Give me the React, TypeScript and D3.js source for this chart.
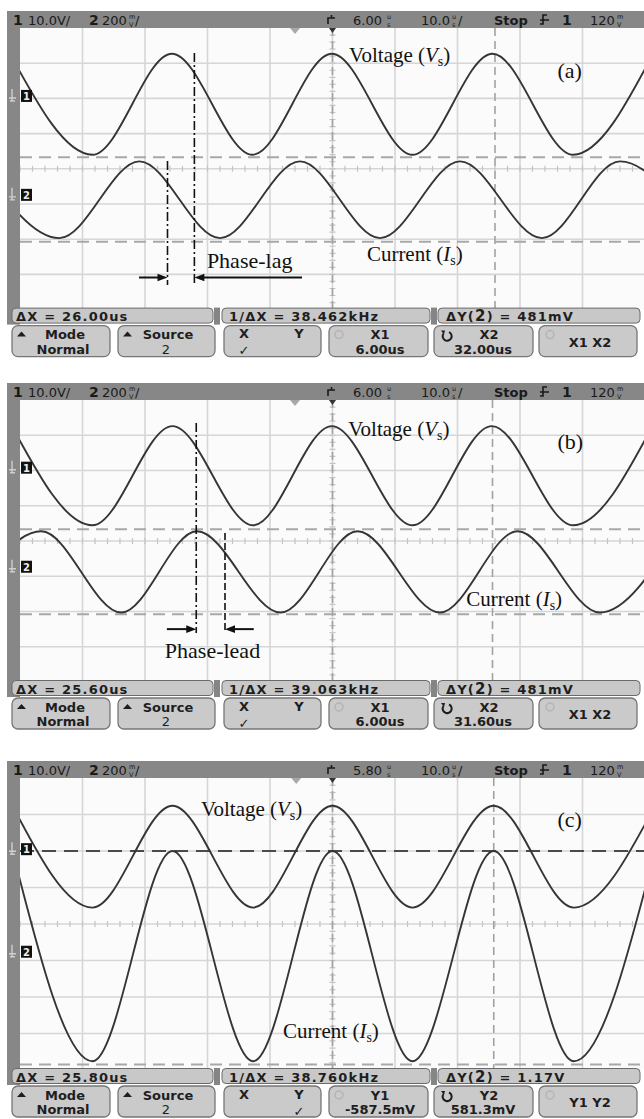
import React from 'react';
import * as d3 from 'd3';

type Pt = [number, number];

// ---- Shared screen geometry -------------------------------------------------
const W = 644;
const H = 1119;
const FRAME_L = 7;
const PLOT_L = 20;
const PLOT_R = 645;
const HEADER_H = 17;
const SCOPE_FONT = "'DejaVu Sans', Verdana, sans-serif";
const SERIF_FONT = "'Liberation Serif', 'Times New Roman', serif";

// ---- Time axis (µs) ---------------------------------------------------------
const DELAYS = [6.0, 6.0, 5.8];
const TIME_SPAN = 100; // 10 divisions × 10 µs/div

// ---- Panel (a): lagging current --------------------------------------------
const A_V_PEAKS = [-45.6, -19.7, 5.9, 31.6, 57.3];
const A_V_TROUGHS = [-32.4, -6.8, 18.8, 44.5];
const A_V_LEVELS = [3.27, 0.4];
const A_I_PEAKS = [-50.6, -24.9, 0.8, 26.4, 52.0];
const A_I_TROUGHS = [-37.7, -12.0, 13.6, 39.5, 65.1];
const A_I_LEVELS = [0.21, -1.97];

// ---- Panel (b): leading current --------------------------------------------
const B_V_PEAKS = [-45.3, -19.6, 5.9, 31.5, 57.2];
const B_V_TROUGHS = [-32.4, -6.7, 18.8, 44.5];
const B_V_LEVELS = [3.26, 0.445];
const B_I_PEAKS = [-40.6, -15.7, 10.0, 35.6, 61.2];
const B_I_TROUGHS = [-53.4, -27.8, -2.3, 23.2, 48.8];
const B_I_LEVELS = [0.275, -2.03];

// ---- Panel (c): in-phase current -------------------------------------------
const C_V_PEAKS = [-45.4, -19.8, 5.8, 31.6, 57.4];
const C_V_TROUGHS = [-32.6, -6.9, 18.6, 44.4];
const C_V_LEVELS = [3.24, 0.45];
const C_I_PEAKS = [-45.4, -19.8, 5.8, 31.6, 57.4];
const C_I_TROUGHS = [-32.6, -6.9, 18.6, 44.4];
const C_I_LEVELS = [2.0, -3.76];

// ---- Cursors (X in µs, Y in divisions from screen centre) -------------------
const X_CURSORS = [[6.0, 32.0], [6.0, 31.6], [5.8, 31.6]];
const Y_CURSORS = [[0.33, -2.075], [0.33, -2.08], [2.0, -3.85]];

// ---- Channel ground markers (divisions) -------------------------------------
const CH1_LEVELS = [2.07, 2.08, 2.05];
const CH2_LEVELS = [-0.74, -0.73, -0.76];

// ---- Phase annotations -----------------------------------------------------
const A_MARK_T = [-20.4, -16.1];
const A_MARK_TOP = [0.22, 3.29];
const A_MARK_BOTTOM = -3.3;
const A_ARROW_FROM = [-24.96, 1.12];
const A_ARROW_LEVEL = -3.09;

const B_MARK_T = [-15.8, -11.2];
const B_MARK_TOP = [3.35, 0.23];
const B_MARK_BOTTOM = -2.61;
const B_ARROW_FROM = [-20.5, -6.6];
const B_ARROW_LEVEL = -2.5;

// ---- Screen texts ----------------------------------------------------------
const DELAY_TEXT = ['6.00', '6.00', '5.80'];
const STATUS_DX = ['ΔX = 26.00us', 'ΔX = 25.60us', 'ΔX = 25.80us'];
const STATUS_FREQ = ['1/ΔX = 38.462kHz', '1/ΔX = 39.063kHz', '1/ΔX = 38.760kHz'];
const STATUS_DY = ['481mV', '481mV', '1.17V'];
const CURSOR_BTN_1 = [['X1', '6.00us'], ['X1', '6.00us'], ['Y1', '-587.5mV']];
const CURSOR_BTN_2 = [['X2', '32.00us'], ['X2', '31.60us'], ['Y2', '581.3mV']];
const CURSOR_BTN_3 = ['X1 X2', 'X1 X2', 'Y1 Y2'];
const CHECK_ON_Y = [false, false, true];
const PANEL_TAGS = ['(a)', '(b)', '(c)'];

// Label anchors: [time µs, baseline level div]
const V_LABEL_POS: Pt[] = [[8.64, 3.03], [8.5, 2.98], [-15.24, 2.96]];
const I_LABEL_POS: Pt[] = [[11.5, -2.62], [27.4, -1.84], [-2.12, -3.12]];
const TAG_POS: Pt[] = [[42.0, 2.58], [42.0, 2.61], [41.8, 2.66]];

// Panel frame geometry
const HEADER_TOPS = [11, 383, 761];
const DIV_HEIGHTS = [35.2, 35.25, 36.5];

function wave(peaks: number[], troughs: number[], levels: number[]): Pt[] {
  const pts: Pt[] = [
    ...peaks.map((t) => [t, levels[0]] as Pt),
    ...troughs.map((t) => [t, levels[1]] as Pt),
  ];
  return pts.sort((a, b) => a[0] - b[0]);
}

const TRACES: Pt[][][] = [
  [wave(A_V_PEAKS, A_V_TROUGHS, A_V_LEVELS), wave(A_I_PEAKS, A_I_TROUGHS, A_I_LEVELS)],
  [wave(B_V_PEAKS, B_V_TROUGHS, B_V_LEVELS), wave(B_I_PEAKS, B_I_TROUGHS, B_I_LEVELS)],
  [wave(C_V_PEAKS, C_V_TROUGHS, C_V_LEVELS), wave(C_I_PEAKS, C_I_TROUGHS, C_I_LEVELS)],
];

interface Phase {
  label: string;
  markT: number[];
  markTop: number[];
  markBottom: number;
  markDash: string[];
  arrowFrom: number[];
  arrowLevel: number;
  textT: number;
  textLevel: number;
  anchor: 'start' | 'middle';
}

const DASH_DOT = '9,3,2,3';
const DASHED = '7,3';

const PHASES: (Phase | null)[] = [
  {
    label: 'Phase-lag', markT: A_MARK_T, markTop: A_MARK_TOP, markBottom: A_MARK_BOTTOM,
    markDash: [DASH_DOT, DASH_DOT], arrowFrom: A_ARROW_FROM, arrowLevel: A_ARROW_LEVEL,
    textT: -14.1, textLevel: -2.82, anchor: 'start',
  },
  {
    label: 'Phase-lead', markT: B_MARK_T, markTop: B_MARK_TOP, markBottom: B_MARK_BOTTOM,
    markDash: [DASH_DOT, DASHED], arrowFrom: B_ARROW_FROM, arrowLevel: B_ARROW_LEVEL,
    textT: -13.2, textLevel: -3.33, anchor: 'middle',
  },
  null,
];

// A reading followed by the scope's small stacked unit (e.g. m over V)
function Reading({ x, y, num, top, bottom, ux, slash }: {
  x: number; y: number; num: string; top: string; bottom: string; ux: number; slash?: boolean;
}) {
  return (
    <g>
      <text x={x} y={y}>{num}</text>
      <text x={ux} y={y - 6.2} fontSize={6.5}>{top}</text>
      <text x={ux} y={y + 2} fontSize={6.5}>{bottom}</text>
      {slash && <text x={ux + 6} y={y}>/</text>}
    </g>
  );
}

function Header({ top, idx }: { top: number; idx: number }) {
  const b = top + 14;
  return (
    <g>
      <rect x={FRAME_L} y={top} width={W - FRAME_L} height={HEADER_H} fill="#878787" />
      <g fontFamily={SCOPE_FONT} fill="#1a1a1a" fontSize={13}>
        <text x={13} y={b} fontWeight="bold" fontSize={14}>1</text>
        <text x={28} y={b}>10.0V/</text>
        <text x={89} y={b} fontWeight="bold" fontSize={14}>2</text>
        <Reading x={102} y={b} num="200" top="m" bottom="V" ux={129} slash />
        <path d={`M${328},${b - 1} v-6 h7 M${331.5},${b - 7} v-3`} stroke="#1a1a1a" strokeWidth={1.6} fill="none" />
        <Reading x={353} y={b} num={DELAY_TEXT[idx]} top="u" bottom="s" ux={387} />
        <Reading x={421} y={b} num="10.0" top="u" bottom="s" ux={452} slash />
        <text x={494} y={b} fontWeight="bold">Stop</text>
        <path d={`M${540},${b - 1} h3 v-9 h4 M${540},${b - 5} h9`} stroke="#1a1a1a" strokeWidth={1.6} fill="none" />
        <text x={562} y={b} fontWeight="bold" fontSize={14}>1</text>
        <Reading x={590} y={b} num="120" top="m" bottom="V" ux={617} />
      </g>
    </g>
  );
}

function ScopeLabel({ x, y, name, sym }: { x: number; y: number; name: string; sym: string }) {
  return (
    <text x={x} y={y} fontFamily={SERIF_FONT} fontSize={21} fill="#111">
      {name} (<tspan fontStyle="italic">{sym}</tspan>
      <tspan fontSize={14} dy={4}>s</tspan>
      <tspan dy={-4}>)</tspan>
    </text>
  );
}

function Button({ x0, x1, top, children }: { x0: number; x1: number; top: number; children?: React.ReactNode }) {
  return (
    <g>
      <rect x={x0} y={top} width={x1 - x0} height={31} rx={6} fill="#cacaca" stroke="#767676" strokeWidth={1.3} />
      {children}
    </g>
  );
}

function Panel({ idx }: { idx: number }) {
  const headerTop = HEADER_TOPS[idx];
  const divH = DIV_HEIGHTS[idx];
  const delay = DELAYS[idx];
  const plotTop = headerTop + HEADER_H;
  const plotBottom = plotTop + 8 * divH;
  const statusTop = plotBottom - 1.5;
  const btnTop = statusTop + 17.5;

  const x = d3.scaleLinear().domain([delay - TIME_SPAN / 2, delay + TIME_SPAN / 2]).range([PLOT_L, PLOT_R]);
  const y = d3.scaleLinear().domain([-4, 4]).range([plotBottom, plotTop]);
  const line = d3.line<Pt>().x((d) => x(d[0])).y((d) => y(d[1])).curve(d3.curveMonotoneX);

  const gridT = d3.range(1, 10).map((k) => delay - TIME_SPAN / 2 + k * 10);
  const gridL = d3.range(-3, 4);
  const minorT = d3.range(delay - 50, delay + 50.01, 2);
  const minorL = d3.range(-4, 4.01, 0.2);
  const clipId = `plot-clip-${idx}`;
  const phase = PHASES[idx];
  const [v, i] = TRACES[idx];
  const y0 = y(0);
  const xc = x(delay);

  return (
    <g>
      <defs>
        <clipPath id={clipId}>
          <rect x={PLOT_L} y={plotTop} width={W - PLOT_L} height={plotBottom - plotTop} />
        </clipPath>
      </defs>
      {/* frame */}
      <rect x={FRAME_L} y={plotTop} width={PLOT_L - FRAME_L} height={plotBottom - plotTop + 15} fill="#878787" />
      <rect x={PLOT_L} y={plotTop} width={W - PLOT_L} height={plotBottom - plotTop} fill="#fbfbfb" />
      <Header top={headerTop} idx={idx} />

      <g clipPath={`url(#${clipId})`}>
        {/* graticule */}
        {gridT.map((t) => (
          <line key={`gx${t}`} x1={x(t)} x2={x(t)} y1={plotTop} y2={plotBottom} stroke="#d6d6d6" strokeWidth={1.6} />
        ))}
        {gridL.map((l) => (
          <line key={`gy${l}`} x1={PLOT_L} x2={PLOT_R} y1={y(l)} y2={y(l)} stroke="#d6d6d6" strokeWidth={1.6} />
        ))}
        {minorT.map((t) => (
          <line key={`mx${t}`} x1={x(t)} x2={x(t)} y1={y0 - 3} y2={y0 + 3} stroke="#c4c4c4" strokeWidth={1.2} />
        ))}
        {minorL.map((l) => (
          <line key={`my${l}`} x1={xc - 3} x2={xc + 3} y1={y(l)} y2={y(l)} stroke="#c4c4c4" strokeWidth={1.2} />
        ))}

        {/* cursors */}
        {X_CURSORS[idx].map((t, k) => (
          <line key={`xc${k}`} x1={x(t)} x2={x(t)} y1={plotTop} y2={plotBottom}
            stroke="#a2a2a2" strokeWidth={1.6} strokeDasharray="8,5" />
        ))}
        {Y_CURSORS[idx].map((l, k) => {
          const dark = idx === 2 && k === 0;
          return (
            <line key={`yc${k}`} x1={PLOT_L} x2={PLOT_R} y1={y(l)} y2={y(l)}
              stroke={dark ? '#4a4a4a' : '#a8a8a8'} strokeWidth={dark ? 1.8 : 2} strokeDasharray={dark ? '14,8' : '12,7'} />
          );
        })}

        {/* trigger / reference markers */}
        <path d={`M${x(0) - 5},${plotTop} h10 l-5,6 z`} fill="#a8a8a8" />
        <path d={`M${xc - 3.5},${plotTop} h7 l-3.5,5 z`} fill="#333" />

        {/* traces */}
        <path d={line(v) ?? ''} fill="none" stroke="#353535" strokeWidth={1.9} />
        <path d={line(i) ?? ''} fill="none" stroke="#353535" strokeWidth={1.9} />

        {/* phase annotation */}
        {phase && (
          <g>
            {phase.markT.map((t, k) => (
              <line key={`pm${k}`} x1={x(t)} x2={x(t)} y1={y(phase.markTop[k])} y2={y(phase.markBottom)}
                stroke="#111" strokeWidth={1.6} strokeDasharray={phase.markDash[k]} />
            ))}
            {phase.arrowFrom.map((t, k) => {
              const xs = x(t);
              const xe = x(phase.markT[k]);
              const dir = Math.sign(xe - xs);
              const ay = y(phase.arrowLevel);
              return (
                <g key={`pa${k}`}>
                  <line x1={xs} x2={xe - dir * 6} y1={ay} y2={ay} stroke="#111" strokeWidth={2} />
                  <path d={`M${xe},${ay} L${xe - dir * 10},${ay - 3.8} L${xe - dir * 10},${ay + 3.8} Z`} fill="#111" />
                </g>
              );
            })}
            <text x={x(phase.textT)} y={y(phase.textLevel)} fontFamily={SERIF_FONT} fontSize={22}
              fill="#111" textAnchor={phase.anchor}>{phase.label}</text>
          </g>
        )}

        {/* labels */}
        <ScopeLabel x={x(V_LABEL_POS[idx][0])} y={y(V_LABEL_POS[idx][1])} name="Voltage" sym="V" />
        <ScopeLabel x={x(I_LABEL_POS[idx][0])} y={y(I_LABEL_POS[idx][1])} name="Current" sym="I" />
        <text x={x(TAG_POS[idx][0])} y={y(TAG_POS[idx][1])} fontFamily={SERIF_FONT} fontSize={22} fill="#111">
          {PANEL_TAGS[idx]}
        </text>
      </g>

      {/* channel markers */}
      {[CH1_LEVELS[idx], CH2_LEVELS[idx]].map((l, k) => (
        <g key={`ch${k}`}>
          <path d={`M${12},${y(l) - 7} v12 M${9},${y(l) + 2} h7 M${10},${y(l) + 5} h5`} stroke="#cfcfcf" strokeWidth={1.4} fill="none" />
          <rect x={21} y={y(l) - 6} width={11} height={12} fill="#111" />
          <text x={26.5} y={y(l) + 4} fill="#eee" fontSize={10} fontWeight="bold" fontFamily={SCOPE_FONT} textAnchor="middle">
            {k + 1}
          </text>
        </g>
      ))}

      {/* status row */}
      <rect x={214} y={plotBottom - 2} width={6} height={17} fill="#858585" />
      <rect x={431} y={plotBottom - 2} width={6} height={17} fill="#858585" />
      <g fontFamily={SCOPE_FONT} fontSize={13} fontWeight="bold" fill="#1e1e1e" letterSpacing={1.2}>
        <rect x={12} y={statusTop} width={201} height={15} rx={4} fill="#c8c8c8" stroke="#6a6a6a" />
        <rect x={222} y={statusTop} width={208} height={15} rx={4} fill="#c8c8c8" stroke="#6a6a6a" />
        <rect x={438} y={statusTop} width={202} height={15} rx={4} fill="#c8c8c8" stroke="#6a6a6a" />
        <text x={16} y={statusTop + 13}>{STATUS_DX[idx]}</text>
        <text x={229} y={statusTop + 13}>{STATUS_FREQ[idx]}</text>
        <text x={446} y={statusTop + 13}>ΔY(<tspan fontSize={15}>2</tspan>) = {STATUS_DY[idx]}</text>
      </g>

      {/* softkeys */}
      <g fontFamily={SCOPE_FONT} fontSize={13} fontWeight="bold" fill="#1e1e1e" textAnchor="middle">
        <Button x0={12} x1={110} top={btnTop}>
          <path d={`M${17},${btnTop + 11} l4.5,-5 l4.5,5 z`} fill="#1e1e1e" />
          <text x={65} y={btnTop + 13.5}>Mode</text>
          <text x={63} y={btnTop + 28}>Normal</text>
        </Button>
        <Button x0={118} x1={215} top={btnTop}>
          <path d={`M${123},${btnTop + 11} l4.5,-5 l4.5,5 z`} fill="#1e1e1e" />
          <text x={168} y={btnTop + 13.5}>Source</text>
          <text x={166} y={btnTop + 28} fontWeight="normal">2</text>
        </Button>
        <Button x0={224} x1={321} top={btnTop}>
          <text x={244} y={btnTop + 12.5}>X</text>
          <text x={299} y={btnTop + 12.5}>Y</text>
          <text x={CHECK_ON_Y[idx] ? 299 : 244} y={btnTop + 29.5} fontSize={13}>✓</text>
        </Button>
        <Button x0={329} x1={428} top={btnTop}>
          <circle cx={339} cy={btnTop + 9} r={4} fill="none" stroke="#b4b4b4" strokeWidth={1.5} />
          <text x={380} y={btnTop + 13.5}>{CURSOR_BTN_1[idx][0]}</text>
          <text x={380} y={btnTop + 28}>{CURSOR_BTN_1[idx][1]}</text>
        </Button>
        <Button x0={434} x1={533} top={btnTop}>
          <path d={`M${449},${btnTop + 6.5} A4.5,4.5 0 1 1 ${443.5},${btnTop + 8}`} fill="none" stroke="#1e1e1e" strokeWidth={2} />
          <path d={`M${441},${btnTop + 5} l4,0 l-1,4 z`} fill="#1e1e1e" />
          <text x={489} y={btnTop + 13.5}>{CURSOR_BTN_2[idx][0]}</text>
          <text x={483} y={btnTop + 28}>{CURSOR_BTN_2[idx][1]}</text>
        </Button>
        <Button x0={539} x1={637} top={btnTop}>
          <circle cx={550} cy={btnTop + 9} r={4} fill="none" stroke="#b4b4b4" strokeWidth={1.5} />
          <text x={590} y={btnTop + 21}>{CURSOR_BTN_3[idx]}</text>
        </Button>
      </g>
    </g>
  );
}

export default function App() {
  return (
    <svg width={W} height={H} viewBox={`0 0 ${W} ${H}`}
      style={{ position: 'absolute', left: 0, top: 0, display: 'block' }}>
      <rect width={W} height={H} fill="#ffffff" />
      {[0, 1, 2].map((k) => <Panel key={k} idx={k} />)}
    </svg>
  );
}
